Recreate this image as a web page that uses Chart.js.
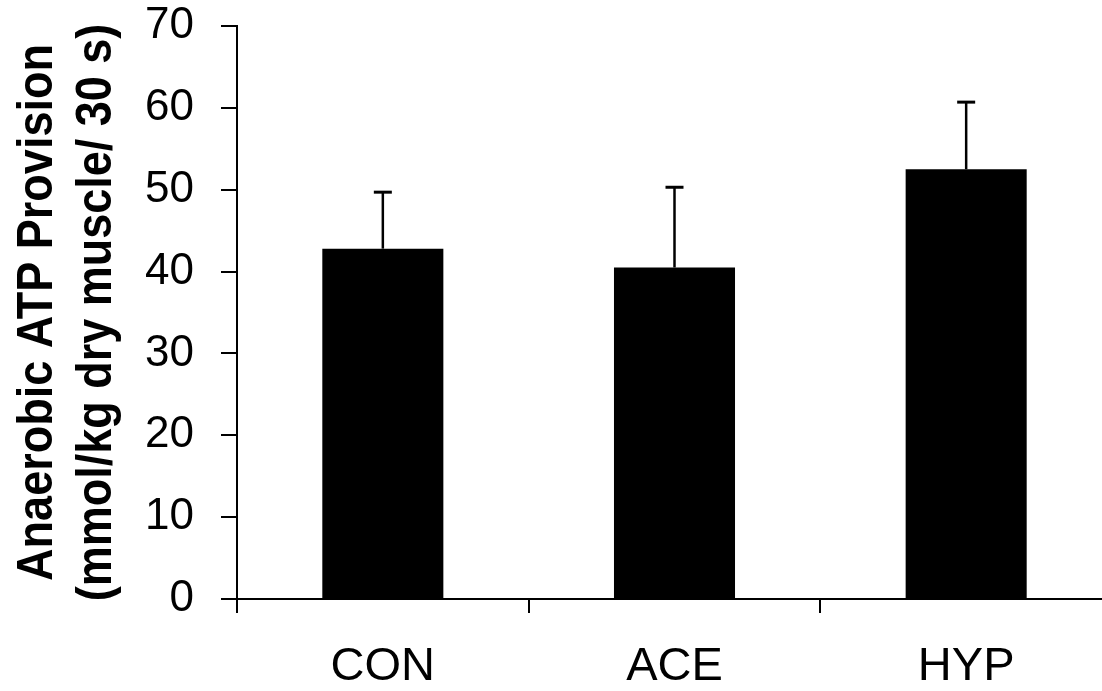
<!DOCTYPE html>
<html>
<head>
<meta charset="utf-8">
<script src="https://cdn.jsdelivr.net/npm/chart.js@4.4.1/dist/chart.umd.min.js"></script>
<style>
  html, body { margin: 0; padding: 0; background: #fff; overflow: hidden; }
  #wrap { width: 1112px; height: 691px; }
</style>
</head>
<body>
<div id="wrap"><canvas id="mycanvas"></canvas></div>
<script>
// data
var groups = ["CON", "ACE", "HYP"];
var means = [42.8, 40.5, 52.5];
var upperErr = [49.7, 50.3, 60.7];
var yTicks = [0, 10, 20, 30, 40, 50, 60, 70];
var yTitle = ["Anaerobic ATP Provision", "(mmol/kg dry muscle/ 30 s)"];

// upper error bars only, drawn through the y scale
var errorBars = {
  id: "errorBars",
  afterDatasetsDraw: function(chart) {
    var ctx = chart.ctx;
    var meta = chart.getDatasetMeta(0);
    var y = chart.scales.y;
    ctx.save();
    ctx.strokeStyle = "#000";
    meta.data.forEach(function(bar, i) {
      var top = y.getPixelForValue(upperErr[i]);
      ctx.lineWidth = 2.5;
      ctx.beginPath();
      ctx.moveTo(bar.x, bar.y);
      ctx.lineTo(bar.x, top);
      ctx.stroke();
      ctx.lineWidth = 3;
      ctx.beginPath();
      ctx.moveTo(bar.x - 9, top);
      ctx.lineTo(bar.x + 9, top);
      ctx.stroke();
    });
    ctx.restore();
  }
};

// the y title in the figure is a narrow bold face, so squeeze it a bit
var yTitlePlugin = {
  id: "yTitle",
  afterDraw: function(chart) {
    var ctx = chart.ctx;
    var area = chart.chartArea;
    var mid = (area.top + area.bottom) / 2;
    ctx.save();
    ctx.translate(0, mid);
    ctx.rotate(-Math.PI / 2);
    ctx.scale(0.9, 1);
    ctx.fillStyle = "#000";
    ctx.font = "bold 50px 'Liberation Sans', Arial, sans-serif";
    ctx.textAlign = "center";
    ctx.textBaseline = "alphabetic";
    ctx.fillText(yTitle[0], 0, 52);
    ctx.fillText(yTitle[1], 0, 111);
    ctx.restore();
  }
};

var ctx = document.getElementById("mycanvas");
var chart = new Chart(ctx, {
  type: "bar",
  data: {
    labels: groups,
    datasets: [{
      data: means,
      backgroundColor: "#000",
      borderWidth: 0,
      barPercentage: 0.415,
      categoryPercentage: 1
    }]
  },
  options: {
    responsive: true,
    maintainAspectRatio: false,
    animation: false,
    layout: { padding: { top: 26, right: 0, bottom: 0, left: 145 } },
    plugins: { legend: { display: false }, tooltip: { enabled: false } },
    scales: {
      x: {
        offset: true,
        afterFit: function(scale) {
          scale.height = 92;
        },
        grid: { display: true, offset: true, drawOnChartArea: false, color: "#000", lineWidth: 2, tickLength: 14 },
        border: { display: true, color: "#000", width: 2 },
        ticks: { color: "#000", padding: 29, font: { family: "'Liberation Sans', Arial, sans-serif", size: 47, lineHeight: 1.05 } }
      },
      y: {
        min: 0,
        max: 70,
        afterBuildTicks: function(scale) {
          scale.ticks = yTicks.map(function(v) { return { value: v }; });
        },
        afterFit: function(scale) {
          scale.width = 92;
          scale.paddingTop = 0;
          scale.paddingBottom = 0;
        },
        grid: { display: true, drawOnChartArea: false, color: "#000", lineWidth: 2, tickLength: 16 },
        border: { display: true, color: "#000", width: 2 },
        ticks: { color: "#000", padding: 27, font: { family: "'Liberation Sans', Arial, sans-serif", size: 44 } }
      }
    }
  },
  plugins: [errorBars, yTitlePlugin]
});
</script>
</body>
</html>
